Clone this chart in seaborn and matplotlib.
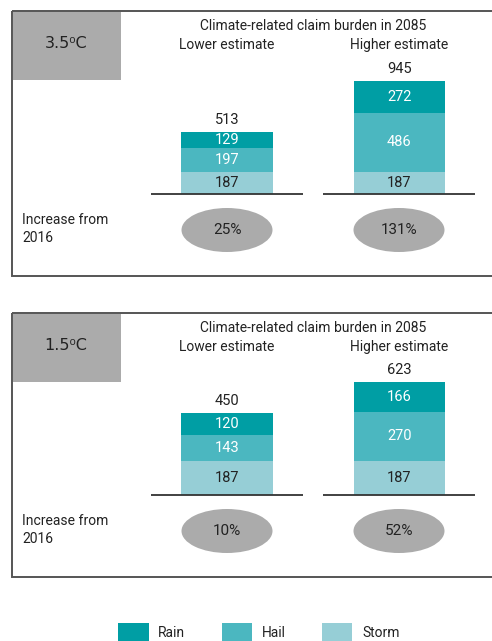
import matplotlib
matplotlib.use("Agg")
import matplotlib.pyplot as plt
from matplotlib.patches import Rectangle, Ellipse, Patch
import seaborn as sns
import pandas as pd

# data
scenarios = ["3.5\u2070C", "1.5\u2070C"]
estimates = ["Lower estimate", "Higher estimate"]
storm = {"3.5\u2070C": [187, 187], "1.5\u2070C": [187, 187]}
hail = {"3.5\u2070C": [197, 486], "1.5\u2070C": [143, 270]}
rain = {"3.5\u2070C": [129, 272], "1.5\u2070C": [120, 166]}
increase = {"3.5\u2070C": ["25%", "131%"], "1.5\u2070C": ["10%", "52%"]}
components = ["Rain", "Hail", "Storm"]
colors = {"Rain": "#009ea4", "Hail": "#4bb7c0", "Storm": "#96ced6"}

sns.set_style("white")
plt.rcParams["font.family"] = ["Roboto", "DejaVu Sans"]
TXT = "#222222"
FS = 10
W, H = 492, 641
fig = plt.figure(figsize=(W / 100, H / 100), dpi=100)

# overlay axes in pixel coordinates for frames and annotations
bg = fig.add_axes([0, 0, 1, 1])
bg.set_xlim(0, W)
bg.set_ylim(H, 0)
bg.axis("off")


def fy(py):
    return 1 - py / H


# panel geometry (pixels): top of box, bottom of box, baseline, pixel scale
panels = [(11, 276, 194, 0.12), (313, 577, 495, 0.182)]

for scen, (top, bot, base, scale) in zip(scenarios, panels):
    bg.add_patch(Rectangle((12, top), 600, bot - top, fill=False,
                           ec="#555555", lw=1.4, zorder=1))
    bg.add_patch(Rectangle((12.5, top + 0.5), 108, 68, fc="#ababab",
                           ec="none", zorder=2))
    bg.text(66, top + 33, scen, ha="center", va="center", fontsize=FS + 1.5,
            color=TXT, zorder=3, family=["DejaVu Sans"])
    bg.text(313, top + 15, "Climate-related claim burden in 2085",
            ha="center", va="center", fontsize=FS, color=TXT)
    for cx, est in zip([227, 399], estimates):
        bg.text(cx, top + 34, est, ha="center", va="center",
                fontsize=FS, color=TXT)
    bg.text(22, base + 35, "Increase from\n2016", ha="left", va="center",
            fontsize=FS, color=TXT, linespacing=1.3)
    for cx, pct in zip([227, 399], increase[scen]):
        bg.add_patch(Ellipse((cx, base + 36), 91, 44, fc="#ababab",
                             ec="none"))
        bg.text(cx, base + 36, pct, ha="center", va="center",
                fontsize=FS + 1, color=TXT)

    # bar axes: x from 151 to 475 px, baseline at `base`, height 134 px
    ax = fig.add_axes([151 / W, fy(base), 324 / W, 134 / H])
    ax.patch.set_alpha(0)
    df = pd.DataFrame({"estimate": estimates, "Storm": storm[scen],
                       "Hail": hail[scen], "Rain": rain[scen]})
    df["sh"] = df["Storm"] + df["Hail"]
    df["total"] = df["sh"] + df["Rain"]
    for col, comp in [("total", "Rain"), ("sh", "Hail"), ("Storm", "Storm")]:
        sns.barplot(data=df, x="estimate", y=col, color=colors[comp],
                    width=0.53, saturation=1, ax=ax, linewidth=0)
    ax.set_xlim(-0.44, 1.44)
    ax.set_ylim(0, 134 / scale)
    ax.hlines([0, 0], [-0.44, 0.56], [0.44, 1.44], color="#333333", lw=1.3,
              clip_on=False, zorder=5)
    for i, r in df.iterrows():
        ax.text(i, r["Storm"] / 2, str(r["Storm"]), ha="center",
                va="center", fontsize=FS + 0.5, color=TXT)
        ax.text(i, r["Storm"] + r["Hail"] / 2, str(r["Hail"]), ha="center",
                va="center", fontsize=FS + 0.5, color="white")
        ax.text(i, r["sh"] + r["Rain"] / 2, str(r["Rain"]), ha="center",
                va="center", fontsize=FS + 0.5, color="white")
        ax.text(i, r["total"] + 5 / scale, str(r["total"]), ha="center",
                va="bottom", fontsize=FS + 0.5, color=TXT)
    ax.axis("off")

handles = [Patch(fc=colors[c], ec="none") for c in components]
fig.legend(handles, components, loc="lower left", ncol=3,
           bbox_to_anchor=(118 / W, 0), frameon=False, fontsize=FS,
           handlelength=2.2, handleheight=1.6, handletextpad=0.7,
           columnspacing=2.6, labelcolor=TXT, borderaxespad=0, borderpad=0)

fig.savefig("out.png", dpi=100)
